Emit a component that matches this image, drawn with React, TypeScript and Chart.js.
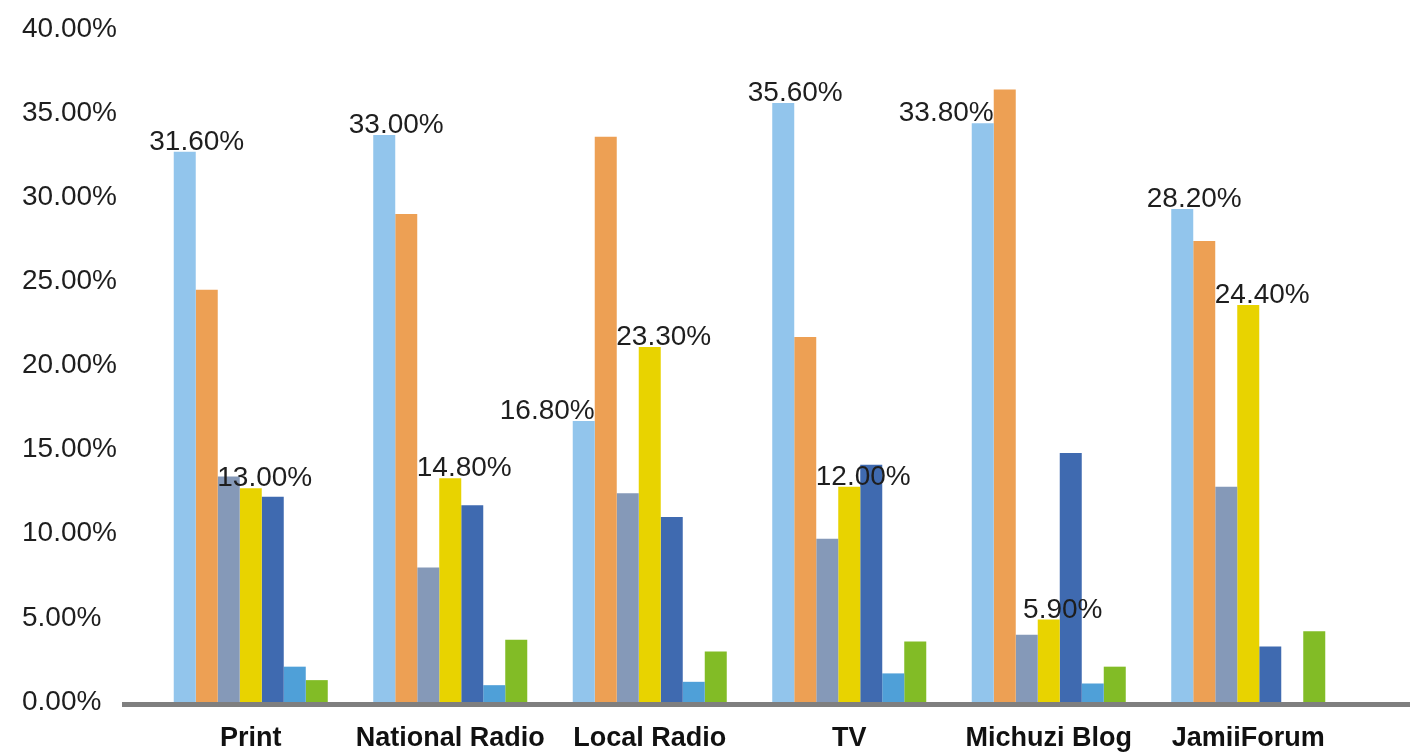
import React, { useEffect, useRef } from "react";
import { Chart, registerables } from "chart.js";

Chart.register(...registerables);

// ---- data ----
const categories = ["Print", "National Radio", "Local Radio", "TV", "Michuzi Blog", "JamiiForum"];
const seriesNames = ["Series 1", "Series 2", "Series 3", "Series 4", "Series 5", "Series 6", "Series 7"];
const lightBlueValues = [32.7, 33.7, 16.7, 35.6, 34.4, 29.3];
const orangeValues = [24.5, 29.0, 33.6, 21.7, 36.4, 27.4];
const grayBlueValues = [13.4, 8.0, 12.4, 9.7, 4.0, 12.8];
const yellowValues = [12.7, 13.3, 21.1, 12.8, 4.9, 23.6];
const darkBlueValues = [12.2, 11.7, 11.0, 14.1, 14.8, 3.3];
const mediumBlueValues = [2.1, 1.0, 1.2, 1.7, 1.1, 0];
const greenValues = [1.3, 3.7, 3.0, 3.6, 2.1, 4.2];
// printed data labels (as written on the chart)
const lightBlueLabels = [31.6, 33.0, 16.8, 35.6, 33.8, 28.2];
const yellowLabels = [13.0, 14.8, 23.3, 12.0, 5.9, 24.4];
// axis
const yMin = 0;
const yMax = 40;
const yStep = 5;

const COLORS = ["#92C5EC", "#EDA054", "#8599B8", "#E8D300", "#3F6AB0", "#4FA0D8", "#82BC26"];
const FONT = "'Liberation Sans', Arial, sans-serif";

const axisLinePlugin = {
  id: "axisLine",
  afterDatasetsDraw(chart: any) {
    const { ctx, chartArea } = chart;
    ctx.save();
    ctx.fillStyle = "#7F7F7F";
    ctx.fillRect(122, chartArea.bottom, chart.width - 122, 5);
    ctx.restore();
  },
};

const dataLabelPlugin = {
  id: "dataLabels",
  afterDatasetsDraw(chart: any) {
    const { ctx } = chart;
    ctx.save();
    ctx.font = `28px ${FONT}`;
    ctx.fillStyle = "#1E1E1E";
    ctx.textBaseline = "alphabetic";
    const m0 = chart.getDatasetMeta(0);
    m0.data.forEach((bar: any, i: number) => {
      const txt = lightBlueLabels[i].toFixed(2) + "%";
      if (orangeValues[i] > lightBlueValues[i]) {
        ctx.textAlign = "right";
        ctx.fillText(txt, bar.x + bar.width / 2, bar.y - 2);
      } else {
        ctx.textAlign = "center";
        ctx.fillText(txt, bar.x + 12, bar.y - 2);
      }
    });
    const m3 = chart.getDatasetMeta(3);
    m3.data.forEach((bar: any, i: number) => {
      const txt = yellowLabels[i].toFixed(2) + "%";
      ctx.textAlign = "center";
      ctx.fillText(txt, bar.x + 14, bar.y - 2);
    });
    ctx.restore();
  },
};

export default function App() {
  const ref = useRef<HTMLCanvasElement | null>(null);

  useEffect(() => {
    if (!ref.current) return;
    const allValues = [
      lightBlueValues,
      orangeValues,
      grayBlueValues,
      yellowValues,
      darkBlueValues,
      mediumBlueValues,
      greenValues,
    ];
    const chart = new Chart(ref.current, {
      type: "bar",
      data: {
        labels: categories,
        datasets: allValues.map((vals, k) => ({
          label: seriesNames[k],
          data: vals,
          backgroundColor: COLORS[k],
          borderWidth: 0,
          categoryPercentage: 0.772,
          barPercentage: 1.0,
        })),
      },
      options: {
        animation: false,
        responsive: false,
        devicePixelRatio: 1,
        layout: { padding: { left: 22, right: 62, top: 29, bottom: 0 } },
        plugins: {
          legend: { display: false },
          tooltip: { enabled: false },
        },
        scales: {
          x: {
            grid: { display: false, drawTicks: false },
            border: { display: false },
            ticks: {
              font: { family: FONT, size: 27, weight: "bold" },
              color: "#111111",
              padding: 20,
              maxRotation: 0,
              autoSkip: false,
            },
            afterFit: (s: any) => {
              s.height = 50;
            },
          },
          y: {
            min: yMin,
            max: yMax,
            grid: { display: false, drawTicks: false },
            border: { display: false },
            ticks: {
              stepSize: yStep,
              crossAlign: "far",
              font: { family: FONT, size: 28 },
              color: "#1E1E1E",
              callback: (v: any) => Number(v).toFixed(2) + "%",
            },
            afterFit: (s: any) => {
              s.width = 129;
            },
          },
        },
      },
      plugins: [axisLinePlugin, dataLabelPlugin],
    });
    return () => chart.destroy();
  }, []);

  return (
    <div style={{ position: "fixed", left: 0, top: 0, width: 1410, height: 752, background: "#fff" }}>
      <canvas ref={ref} width={1410} height={752} style={{ display: "block" }} />
    </div>
  );
}
